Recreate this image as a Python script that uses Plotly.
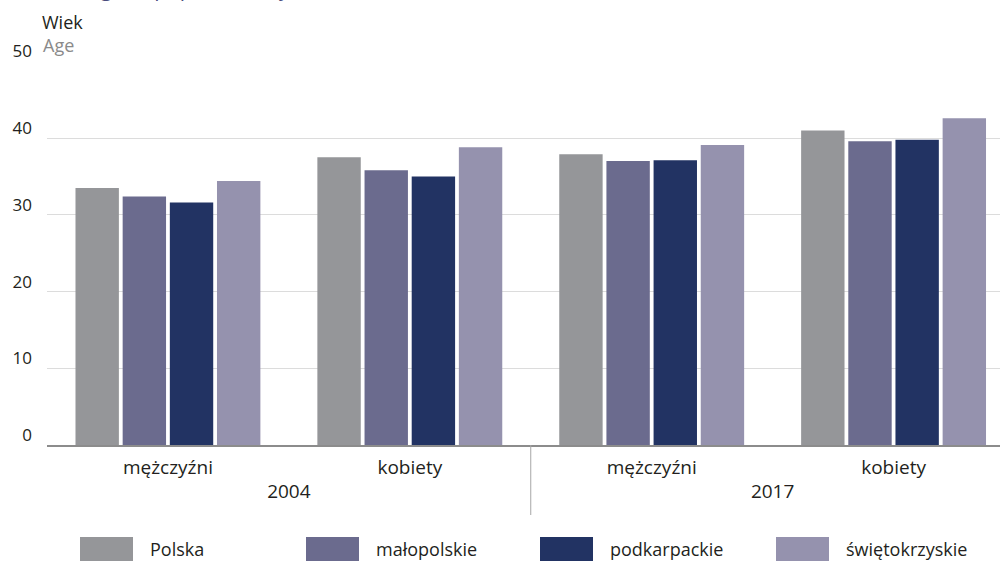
import plotly.graph_objects as go

# Median age by sex and region, 2004 and 2017
years = ["2004", "2004", "2017", "2017"]
sexes = ["mężczyźni", "kobiety", "mężczyźni", "kobiety"]

regions = ["Polska", "małopolskie", "podkarpackie", "świętokrzyskie"]
polska = [33.5, 37.5, 37.9, 41.0]
malopolskie = [32.4, 35.8, 37.0, 39.6]
podkarpackie = [31.6, 35.0, 37.1, 39.8]
swietokrzyskie = [34.4, 38.8, 39.1, 42.6]

y_ticks = [0, 10, 20, 30, 40, 50]

series = [polska, malopolskie, podkarpackie, swietokrzyskie]
colors = ["#959699", "#6b6b8e", "#223363", "#9592ae"]

W, H = 1000, 562
L, R, T, B = 47, 0, 61, 117
PW, PH = W - L - R, H - T - B
X_RANGE = [-0.5, 3.44]

FONT = "Open Sans"
TXT = "#231f20"


def px_x(x):
    return (x - L) / PW


def px_y(y):
    return (H - B - y) / PH


fig = go.Figure()
for name, vals, col in zip(regions, series, colors):
    fig.add_trace(go.Bar(
        x=[years, sexes], y=vals, name=name,
        marker=dict(color=col, line=dict(width=0)),
        showlegend=False,
    ))

fig.update_layout(
    width=W, height=H,
    margin=dict(l=L, r=R, t=T, b=B),
    paper_bgcolor="white", plot_bgcolor="white",
    barmode="group", bargap=0.22, bargroupgap=0.08,
    font=dict(family=FONT, size=18, color=TXT),
    xaxis=dict(
        type="multicategory",
        range=X_RANGE,
        showline=True, linecolor="#8c8c8c", linewidth=2,
        showgrid=False, ticks="",
        ticklabelstandoff=4,
        showdividers=False,
        tickfont=dict(size=19, color=TXT),
    ),
    yaxis=dict(
        range=[0, 50.05],
        tickvals=y_ticks,
        showgrid=True, gridcolor="#dcdcdc", gridwidth=1,
        zeroline=False, showline=False, ticks="",
        tickfont=dict(size=17, color=TXT),
        ticklabelshift=-10,
        ticklabelstandoff=14,
    ),
)

# Divider between the two years, below the axis
split = (1.5 - X_RANGE[0]) / (X_RANGE[1] - X_RANGE[0])
fig.add_shape(type="line", xref="paper", yref="paper",
              x0=split, x1=split, y0=0, y1=px_y(515),
              line=dict(color="#a6a6a6", width=1))

# Axis captions (Polish / English)
fig.add_annotation(text="Wiek", xref="paper", yref="paper",
                   x=px_x(40), y=px_y(22), xanchor="left", yanchor="middle",
                   showarrow=False, font=dict(size=18, color=TXT))
fig.add_annotation(text="Age", xref="paper", yref="paper",
                   x=px_x(41), y=px_y(45), xanchor="left", yanchor="middle",
                   showarrow=False, font=dict(size=18, color="#8a8a8a"))

# Chart heading running off the top edge
fig.add_annotation(text="Median age of population by sex", xref="paper", yref="paper",
                   x=px_x(8), y=px_y(-12.2), xanchor="left", yanchor="middle",
                   showarrow=False, font=dict(size=21, color="#4b4b7d"))

# Legend with wide swatches
legend_x = [80, 306, 540, 776]
for name, col, lx in zip(regions, colors, legend_x):
    fig.add_shape(type="rect", xref="paper", yref="paper",
                  x0=px_x(lx), x1=px_x(lx + 53), y0=px_y(537), y1=px_y(561),
                  fillcolor=col, line=dict(width=0), layer="above")
    fig.add_annotation(text=name, xref="paper", yref="paper",
                       x=px_x(lx + 68), y=px_y(549), xanchor="left", yanchor="middle",
                       showarrow=False, font=dict(size=18, color=TXT))

fig.write_html("out.html")
